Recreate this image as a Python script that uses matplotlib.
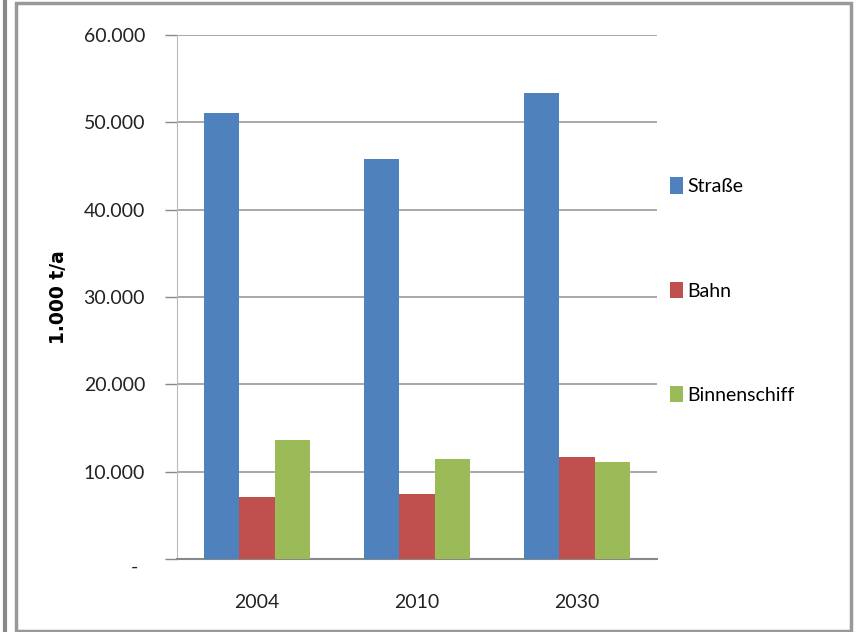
import numpy as np
import matplotlib
matplotlib.use("Agg")
import matplotlib.pyplot as plt
import matplotlib.transforms as mtransforms
from matplotlib.patches import Rectangle
from matplotlib.lines import Line2D

# data (1.000 t/a)
years = ["2004", "2010", "2030"]
strasse = [51100, 45800, 53400]
bahn = [7150, 7400, 11650]
binnenschiff = [13600, 11450, 11050]
series_names = ["Straße", "Bahn", "Binnenschiff"]
colors = ["#4F81BD", "#C0504D", "#9BBB59"]
yticks = [0, 10000, 20000, 30000, 40000, 50000, 60000]
ytick_labels = ["-", "10.000", "20.000", "30.000", "40.000", "50.000", "60.000"]

plt.rcParams['font.family'] = ['Lato', 'DejaVu Sans']

fig = plt.figure(figsize=(8.56, 6.32), dpi=100)
ax = fig.add_axes([177/856, 1 - 559/632, 480/856, 524/632])

x = np.arange(len(years))
w = 0.222
for i, (vals, c) in enumerate(zip([strasse, bahn, binnenschiff], colors)):
    ax.bar(x + (i - 1) * w, vals, width=w, color=c, label=series_names[i], zorder=3)

ax.set_xlim(-0.5, 2.5)
ax.set_ylim(0, 60000)
ax.set_yticks(yticks)
ax.set_yticklabels(ytick_labels, fontsize=14, color="#222222")
ax.set_xticks(x)
ax.set_xticklabels(years, fontsize=14, color="#222222")
ax.tick_params(axis="y", length=9, width=1, color="#888888", pad=14)
ax.tick_params(axis="x", length=0, pad=25)
ax.yaxis.grid(True, color="#999999", linewidth=1.2, zorder=0)
# zero label "-" sits a bit lower and further left
shift = mtransforms.ScaledTranslation(-5/72, -5/72, fig.dpi_scale_trans)
zero_lab = ax.get_yticklabels()[0]
zero_lab.set_transform(zero_lab.get_transform() + shift)
for s in ["top", "right"]:
    ax.spines[s].set_visible(False)
ax.spines["left"].set_color("#BBBBBB")
ax.spines["bottom"].set_color("#888888")
ax.spines["bottom"].set_linewidth(1.5)

ax.set_ylabel("1.000 t/a", fontsize=13.5, fontweight="bold", family="DejaVu Sans")
ax.yaxis.set_label_coords((68 - 177) / 480, 0.5)

leg = fig.legend(loc="upper left", bbox_to_anchor=(652/856, 1 - 160/632),
                 frameon=False, fontsize=14, labelspacing=4.45,
                 handlelength=0.7, handleheight=0.9, handletextpad=0.2)

# outer frame
fig.patches.append(Rectangle((16/856, 1/632), 835/856, 628/632, transform=fig.transFigure,
                             fill=False, edgecolor="#999999", linewidth=2.5))
fig.lines.append(Line2D([5/856, 5/856], [0, 1], transform=fig.transFigure,
                        color="#888888", linewidth=3))

fig.savefig("out.png", dpi=100)
